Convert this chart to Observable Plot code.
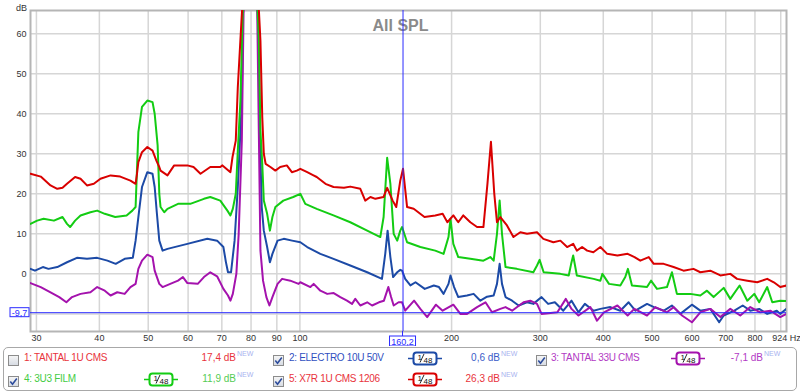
<!DOCTYPE html>
<html><head><meta charset="utf-8">
<script src="https://cdn.jsdelivr.net/npm/d3@7"></script>
<script src="https://cdn.jsdelivr.net/npm/@observablehq/plot@0.6"></script>
<style>
body{margin:0;background:#fff;font-family:"Liberation Sans",Arial,sans-serif;}
#wrap{position:relative;width:800px;height:392px;overflow:hidden;background:#fff;}
#chart{position:absolute;left:0;top:0;}
#legend{position:absolute;left:0;top:346px;width:800px;height:46px;}
.box{position:absolute;left:3px;top:1px;width:792px;height:42px;border:1px solid #a8a8a8;border-radius:5px;}
.cb{position:absolute;width:11px;height:11px;}
.nm{position:absolute;font-size:10px;line-height:12px;letter-spacing:-0.3px;white-space:nowrap;}
.val{position:absolute;font-size:10px;line-height:12px;text-align:right;white-space:nowrap;width:80px;}
.new{position:absolute;font-size:7px;color:#a9b3ef;line-height:8px;}
.badge{position:absolute;width:34px;height:15px;}
</style></head>
<body>
<div id="wrap"><div id="chart"></div><div id="legend"><div class="box"></div></div></div>
<script>
// ---------- data (frequency in Hz, level in dB) ----------
const title = "All SPL";
const xTicks = [30,40,50,60,70,80,90,100,200,300,400,500,600,700,800,924];
const xGrid = [30,40,50,60,70,80,90,100,200,300,400,500,600,700,800,900];
const yTicks = [0,10,20,30,40,50,60];
const yGrid = [-10,0,10,20,30,40,50,60];
const cursorF = 160.2, cursorFLabel = "160,2";
const cursorDb = -9.7, cursorDbLabel = "-9,7";

const blueF = [29.2,29.8,30.9,31.7,33.0,34.5,36.1,37.8,39.6,41.5,43.1,44.9,46.6,47.2,47.8,48.6,49.8,51.0,51.5,52.0,52.6,53.4,54.6,59.8,65.5,68.5,70.5,71.3,72.0,73.0,74.2,75.3,76.7,77.1,78.5,80.0,81.5,82.5,83.3,84.0,84.8,86.1,87.2,88.2,90.3,92.9,96.5,100.2,103.4,109.8,116.6,125.9,136.0,145.5,147.7,149.3,151.2,153.1,156.0,158.2,159.5,161.8,165.7,169.6,176.9,184.4,188.8,192.8,197.2,199,202.3,206.2,214.6,221.2,228.1,235.2,242.4,246.1,249.1,251.8,255.9,263.7,271.7,282.3,290.6,301.7,310.9,320.6,333.2,346.0,357.1,367.7,382.8,394.7,413.2,432.4,449.1,463.2,488.5,504.3,527.7,547.4,568.8,599.7,623.2,652.4,679.2,693.5,728.0,756.5,783,815.6,846.0,883.9,898,924];
const blueDb = [1.25,0.8,1.7,1.25,1.7,2.9,4,3.75,4,3.3,2.5,3.75,4,8.3,14.2,21.7,25.4,25,21.7,15.4,8.3,5.8,6.25,7.5,8.75,8.3,6.7,3,0.4,0.4,8.3,21.7,43.3,65,80,85,80,65,35,16.7,10.8,6.7,2.9,5,8.3,8.75,8.3,7.9,6.7,5,3.75,2.1,0.4,-1.25,5,10.8,4.2,-0.8,0.4,1,0.8,-1.25,-2.9,-2.1,-3.75,-2.9,-3.3,-5,-2.5,-0.4,-3.3,-5.8,-5.4,-5,-6.7,-5.7,-5.4,-2.5,2.5,-2.5,-5.8,-6.7,-7.9,-7.1,-7.5,-5.8,-7.5,-7.1,-9.2,-6.7,-9.6,-7.5,-9.2,-8.75,-8.3,-9.2,-7.1,-9.2,-7.5,-8.3,-9.2,-7.9,-10,-7.7,-9.2,-8.75,-12.1,-10.4,-9.2,-7.9,-9.2,-8.75,-10,-9.2,-10,-8.75];

const purpleF = [29.2,30.6,32.0,33.3,34.4,35.3,36.7,38.4,39.6,41.0,42.1,43.4,44.9,46.1,47.2,47.8,48.6,49.8,51.0,51.5,52.6,53.4,55.3,57.3,58.6,59.8,62.7,64.5,66.4,68.5,70.5,72.0,72.8,73.6,74.8,75.6,76.7,77.3,78.5,80.0,81.5,82.3,82.9,83.5,84.5,85.8,87.0,88.2,90.3,92.2,95.7,99.4,100.2,104.9,106.5,109.8,113.3,116.7,120.3,124.0,126.9,128.8,131.8,136.0,139.1,143.5,146.8,149.8,151.7,153.5,157.0,159.5,161.8,168.5,173.4,178.9,186.2,192.0,201.6,208.2,214.6,224.7,233.5,240.6,249.9,255.9,263.7,277.9,286.6,295.5,301.7,324.3,337.1,346.0,357.1,377.1,388.7,401.3,426.7,447.1,461.1,488.5,507.4,535.1,551.8,573.2,599.7,623.2,652.4,683,714.7,748.1,783,819.7,858,898,924];
const purpleDb = [-2.3,-3.3,-4.6,-5.8,-7.1,-5.8,-5,-4.6,-3.3,-4.2,-5.4,-4.6,-5,-3.3,-2.5,1.25,3.3,4.8,4.2,0.8,-2.5,-3.3,-2.5,-1.7,-0.8,-2.3,-2.5,-0.8,0.4,-0.6,-3.75,-5.4,-6.7,-5,0,10,33.3,65,80,85,80,65,35,5.8,-1.7,-5.8,-7.9,-5.8,-2.5,-1.25,-1.7,-2.5,-2.1,-3.3,-2.5,-4.2,-5,-4.8,-5.8,-6.7,-7.5,-6.25,-7.9,-7.1,-7.9,-7.1,-6.7,-3.3,-5.8,-7.9,-7.1,-7.1,-9.2,-6.7,-8.75,-10.8,-7.7,-9.2,-7.7,-10,-10,-8.3,-7.1,-9.6,-8.75,-8.3,-9.2,-7.1,-6.7,-7.5,-10,-9.6,-6.25,-8.75,-10.4,-8.3,-11.7,-9.6,-7.9,-10.4,-8.75,-10.4,-8.3,-9.6,-8.3,-10.4,-12.1,-9.6,-8.75,-10.8,-8.75,-10.4,-8.3,-9.6,-9.2,-10.8,-10];

const greenF = [29.2,30.1,31.0,32.5,33.8,34.5,35.0,35.8,36.7,38.4,39.6,41.0,43.0,45.3,46.5,47.2,47.8,48.6,49.8,51.0,51.5,52.2,52.6,52.9,53.8,54.6,57.3,60.6,64.5,66.4,69.5,71.8,72.8,73.6,74.6,75.3,76.2,77.0,78.5,80.0,81.5,82.9,83.5,84.2,84.8,86.1,87.2,88.2,89.4,92.7,97.0,100.2,102.5,108.0,116.6,125.9,136.0,144.4,146.6,149.0,151.2,153.5,156.0,158.2,159.5,163.2,173.4,185.6,192.8,197.2,199,201.6,206.2,217.9,231.3,238.7,242.4,246.1,249.1,251.8,255.9,269.4,290.6,295.5,299,304.6,328.8,341.6,345.4,348.6,354.5,382.8,394.7,398.4,410.6,432.4,442.3,447.7,456.0,488.5,497.5,511.3,535.1,547.4,560.0,595.4,623.2,642.4,662.2,693.5,714.7,745.8,772.5,797.5,815.6,846.0,865.9,898,924];
const greenDb = [12.5,13.3,13.75,13.3,14.2,12.5,11.7,13.3,14.6,15.4,15.8,15,14.2,14.6,15.8,16.7,35.4,41.7,43.3,42.9,40,32.1,20,16.7,15.4,16.25,17.5,17.5,18.75,19.2,18.3,15.8,14.6,16.25,20,30.8,43.3,65,80,85,80,58.3,35.8,27.5,18.3,15,10.8,14.2,16.7,18.3,19.2,20,17.5,16.25,14.6,12.9,10.8,9.2,14.2,29,22.5,10,8.3,10.8,11.7,7.9,6.7,5.8,5,9.2,13.75,7.5,4.2,3.75,3.3,4.2,3.3,10,18.3,10,1.7,1.25,0.4,2.1,3.5,0.4,0,-0.4,2.5,4.6,-0.4,-1.25,-1.7,0,-2.5,-2.9,-0.8,1.25,-2.9,-3.3,-1.7,-3.75,-3.3,0.4,-5,-5,-5.4,-4.2,-5.8,-3.5,-6.25,-2.9,-6.7,-5,-7.1,-3.3,-7.1,-6.7,-6.8];

const redF = [29.2,30.6,32.0,33.0,33.8,34.5,35.8,36.7,37.8,39.0,40.2,42.1,44.0,46.1,47.2,47.5,47.8,48.6,49.8,51.0,51.9,52.6,52.9,54.6,56.3,59.8,61.5,63.5,66.4,69.5,70.2,72.8,73.5,74.6,75.3,76.7,78.3,79.7,81.6,82.9,83.5,84.2,84.8,85.5,87.4,89.4,91.4,94.2,96.4,98.6,100.2,103.4,106.4,108.0,112.4,116.6,122.3,125.9,131.8,134.8,138.0,141.2,146.5,149.0,152.8,155.3,158.2,160.2,163.2,168.2,176.7,185.6,192.0,196.2,201.6,206.2,211.0,217.9,224.7,231.3,235.6,239.4,243.1,246.1,249.9,257.6,265.3,273.8,282.3,295.5,304.2,318.4,328.8,339.1,348.6,354.5,363.1,371.6,382.3,394.7,407.2,426.7,447.1,461.4,473.8,492.4,503.8,527.1,551.5,577.2,604,623.2,652.4,683,714.7,737.1,772.5,808.4,846.0,872.0,898,924];
const redDb = [25,24.3,22.1,21.25,21.5,22.5,24.2,23.75,22.1,22.5,23.75,24.6,24.3,23.3,22.5,25,27.9,30.4,31.7,30.8,28.3,26.7,25.8,24.6,27.1,27.1,26.7,25,26.7,26.7,27.1,25.4,29.2,33.3,46.7,65,80,85,80,66,58.3,39.2,30,27.5,26.7,25.8,26.7,27.1,25.4,25.8,26.25,25.4,24.6,24.2,22.5,21.7,21.5,21.8,21.25,18.3,19.2,18.75,19.2,21.5,18.3,16.7,23.3,26.25,16.7,16.25,14.2,14.6,15,12.9,14.6,12.9,14.6,12.9,11.7,11.7,22.5,33,20,12.9,14.2,12.1,9.2,10.4,10,10.4,8.75,7.9,8.3,6.7,7.5,5.8,6.7,5.8,5.4,6.7,5,4.6,5,4.2,3.3,4.2,2.5,2.5,1.7,0.8,1.25,0.4,0.8,-0.4,0,-1.25,-1.7,-2.1,-1.25,-2.1,-3.3,-2.9];

// legend content
const legendNames = ["1: TANTAL 1U CMS","2: ELECTRO 10U 50V","3: TANTAL 33U CMS","4: 3U3 FILM","5: X7R 1U CMS 1206"];
const legendValues = ["17,4 dB","0,6 dB","-7,1 dB","11,9 dB","26,3 dB"];
const legendChecked = [false,true,true,true,true];
const legendSmoothing = [null,"1/48","1/48","1/48","1/48"];
const nameColors = ["#e8333c","#2f4fbf","#b23ac4","#44cc44","#e8333c"];
const valueColors = ["#e8333c","#3a5cc8","#b23ac4","#55cc55","#e8333c"];
const lineColors = {blue:"#1c4aa6", purple:"#a412ad", green:"#13cc13", red:"#d90000"};

// ---------- chart ----------
const curves = [
  {c: lineColors.blue, f: blueF, db: blueDb},
  {c: lineColors.purple, f: purpleF, db: purpleDb},
  {c: lineColors.green, f: greenF, db: greenDb},
  {c: lineColors.red, f: redF, db: redDb}
].map(s => ({c: s.c, rows: s.f.map((f, i) => ({f, db: s.db[i]}))}));

const cursorBlue = "#2b2bff";
function cursorLabels(index, scales, values, dims) {
  const x = scales.x(cursorF), y = scales.y(cursorDb);
  const bottom = dims.height - dims.marginBottom;
  const g = d3.create("svg:g").attr("font-size", 9).attr("font-family", "Liberation Sans, Arial, sans-serif");
  g.append("line").attr("x1", x).attr("x2", x).attr("y1", bottom).attr("y2", bottom + 5).attr("stroke", cursorBlue);
  g.append("rect").attr("x", x - 13).attr("y", bottom + 5).attr("width", 26).attr("height", 10)
    .attr("fill", "#fff").attr("stroke", cursorBlue);
  g.append("text").attr("x", x).attr("y", bottom + 13.5).attr("text-anchor", "middle").attr("fill", cursorBlue).text(cursorFLabel);
  g.append("rect").attr("x", dims.marginLeft - 20).attr("y", y - 4.5).attr("width", 19).attr("height", 9)
    .attr("fill", "#fff").attr("stroke", cursorBlue);
  g.append("text").attr("x", dims.marginLeft - 10.5).attr("y", y + 3.5).attr("text-anchor", "middle").attr("fill", cursorBlue).text(cursorDbLabel);
  return g.node();
}

const chart = Plot.plot({
  width: 800, height: 346,
  marginLeft: 30, marginRight: 14, marginTop: 10, marginBottom: 15,
  style: {fontFamily: "Liberation Sans, Arial, sans-serif", fontSize: "9px", color: "#333", background: "#fff"},
  x: {type: "log", domain: [29.2, 924], axis: null},
  y: {domain: [-14.4, 65.8], ticks: yTicks, tickSize: 0, tickPadding: 4, label: null},
  marks: [
    Plot.ruleX(xGrid, {stroke: "#d6d6d6", strokeWidth: 1.5}),
    Plot.ruleY(yGrid, {stroke: "#d6d6d6", strokeWidth: 1.5}),
    Plot.frame({stroke: "#b5b5b5", strokeWidth: 2}),
    Plot.text(xTicks, {x: d => d, text: d => d === 924 ? "924 Hz" : String(d), frameAnchor: "bottom", dy: 9.5, fontSize: 9, fill: "#333"}),
    Plot.text([title], {text: d => d, frameAnchor: "top", dx: -8, dy: 9, fontSize: 16, fontWeight: "bold", fill: "#8a8a8a"}),
    Plot.text(["dB"], {text: d => d, frameAnchor: "top-left", dx: -9, dy: -6, textAnchor: "middle", fontSize: 9}),
    ...curves.map(s => Plot.line(s.rows, {x: "f", y: "db", stroke: s.c, strokeWidth: 2, clip: true})),
    Plot.ruleX([cursorF], {stroke: cursorBlue, strokeWidth: 1}),
    Plot.ruleY([cursorDb], {stroke: cursorBlue, strokeWidth: 1}),
    cursorLabels
  ]
});
document.getElementById("chart").appendChild(chart);

// ---------- legend ----------
const slots = [
  {row: 0, cb: 8, nm: 24, badge: null, valR: 236},
  {row: 0, cb: 273, nm: 289, badge: 408, valR: 500},
  {row: 0, cb: 536, nm: 551, badge: 671, valR: 763},
  {row: 1, cb: 8, nm: 24, badge: 144, valR: 236},
  {row: 1, cb: 273, nm: 289, badge: 408, valR: 500}
];
const rowCenter = [12, 33];
const legend = document.getElementById("legend");
legendNames.forEach((name, i) => {
  const s = slots[i], cy = rowCenter[s.row];
  const cb = document.createElement("div");
  cb.className = "cb"; cb.style.left = s.cb + "px"; cb.style.top = (cy - 6) + "px";
  cb.innerHTML = `<svg width="11" height="11"><defs><linearGradient id="g${i}" x1="0" y1="0" x2="0" y2="1"><stop offset="0" stop-color="#f6f6f6"/><stop offset="1" stop-color="#d6dbe3"/></linearGradient></defs><rect x="0.5" y="0.5" width="10" height="10" fill="url(#g${i})" stroke="#8c8c8c"/>${legendChecked[i] ? '<path d="M2.3 5.6 L4.5 8.2 L8.8 2.4" fill="none" stroke="#2d4c9c" stroke-width="1.6"/>' : ''}</svg>`;
  legend.appendChild(cb);
  const nm = document.createElement("div");
  nm.className = "nm"; nm.textContent = name; nm.style.color = nameColors[i];
  nm.style.left = s.nm + "px"; nm.style.top = (cy - 6) + "px";
  legend.appendChild(nm);
  if (legendSmoothing[i] && s.badge != null) {
    const [a, b] = legendSmoothing[i].split("/");
    const bd = document.createElement("div");
    bd.className = "badge"; bd.style.left = s.badge + "px"; bd.style.top = (cy - 7.5) + "px";
    const c = lineColors[["", "blue", "purple", "green", "red"][i]];
    bd.innerHTML = `<svg width="34" height="15"><line x1="0" x2="34" y1="7.5" y2="7.5" stroke="${c}" stroke-width="1.5"/><rect x="5.5" y="1.5" width="23" height="12" rx="3" fill="#fff" stroke="${c}" stroke-width="2"/><text x="9.5" y="8.5" font-size="8" font-family="Liberation Sans, Arial" fill="#111">${a}</text><line x1="12" y1="11.5" x2="16" y2="3" stroke="#111" stroke-width="0.9"/><text x="15.5" y="12.3" font-size="8" font-family="Liberation Sans, Arial" fill="#111">${b}</text></svg>`;
    legend.appendChild(bd);
  }
  const v = document.createElement("div");
  v.className = "val"; v.textContent = legendValues[i]; v.style.color = valueColors[i];
  v.style.left = (s.valR - 80) + "px"; v.style.top = (cy - 6) + "px";
  legend.appendChild(v);
  const nw = document.createElement("div");
  nw.className = "new"; nw.textContent = "NEW";
  nw.style.left = (s.valR + 1) + "px"; nw.style.top = (cy - 8) + "px";
  legend.appendChild(nw);
});
</script>
</body></html>
